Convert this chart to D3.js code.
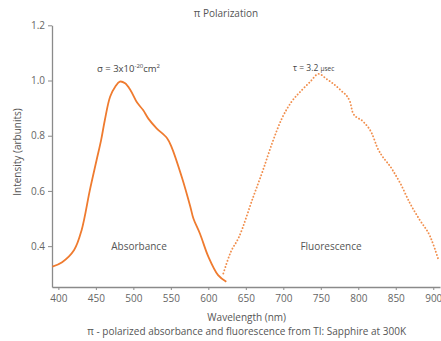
<!DOCTYPE html>
<html><head><meta charset="utf-8">
<script src="https://cdn.jsdelivr.net/npm/d3@7"></script>
<style>
html,body{margin:0;padding:0;background:#fff;}
svg{display:block;font-family:"Open Sans","Noto Sans",sans-serif;}
</style></head>
<body><svg id="c" width="441" height="341"></svg>
<script>
const absWavelength = [392,405,421,431,442,451,457,462,469,476,482,489,496,505,513,520,531,545,551,565,576,580,589,600,613,624];
const absIntensity  = [0.326,0.342,0.386,0.458,0.603,0.712,0.784,0.857,0.941,0.978,0.996,0.990,0.966,0.920,0.893,0.862,0.827,0.791,0.759,0.647,0.543,0.501,0.444,0.362,0.295,0.271];
const fluWavelength = [620,630,640,660,673,685,698,711,725,736,747,758,776,789,793,807,818,825,845,856,869,882,896,907];
const fluIntensity  = [0.301,0.379,0.428,0.579,0.676,0.772,0.862,0.923,0.966,0.996,1.024,1.005,0.966,0.923,0.881,0.850,0.809,0.760,0.679,0.628,0.555,0.495,0.434,0.350];
const xTicks = [400,450,500,550,600,650,700,750,800,850,900];
const yTicks = [0.4,0.6,0.8,1.0,1.2];

const svg = d3.select("#c");
const x = d3.scaleLinear().domain([391.5,909]).range([52,440]);
const y = d3.scaleLinear().domain([0.252,1.2]).range([287,25.3]);
const orange = "#ef7b2f";
const axisCol = "#8a8a8a";
const textCol = "#555";

// axes
const xa = svg.append("g").attr("transform","translate(0,287)")
  .call(d3.axisBottom(x).tickValues(xTicks).tickFormat(d3.format("d")).tickSize(3).tickSizeOuter(0).tickPadding(5));
const ya = svg.append("g").attr("transform","translate(52,0)")
  .call(d3.axisLeft(y).tickValues(yTicks).tickFormat(d3.format(".1f")).tickSize(4).tickSizeOuter(0).tickPadding(3));
[xa,ya].forEach(g=>{
  g.select(".domain").attr("stroke",axisCol).attr("stroke-width",1.3);
  g.selectAll(".tick line").attr("stroke",axisCol);
  g.selectAll(".tick text").attr("fill","#666").attr("font-size",10).attr("font-family","'Open Sans','Noto Sans',sans-serif");
});

const absData = absWavelength.map((w,i)=>[w,absIntensity[i]]);
const fluData = fluWavelength.map((w,i)=>[w,fluIntensity[i]]);
const absLine = d3.line().x(d=>x(d[0])).y(d=>y(d[1])).curve(d3.curveCatmullRom.alpha(0.5));
const fluLine = d3.line().x(d=>x(d[0])).y(d=>y(d[1])).curve(d3.curveMonotoneX);

svg.append("path").attr("d",absLine(absData)).attr("fill","none")
  .attr("stroke",orange).attr("stroke-width",1.8).attr("stroke-linejoin","round");
svg.append("path").attr("d",fluLine(fluData)).attr("fill","none")
  .attr("stroke",orange).attr("stroke-opacity",0.85).attr("stroke-width",1.9)
  .attr("stroke-dasharray","0.1,3.2").attr("stroke-linecap","round");

// text
function txt(xp,yp,s,size,anchor){
  return svg.append("text").attr("x",xp).attr("y",yp).attr("fill",textCol)
    .attr("font-size",size).attr("text-anchor",anchor||"middle").text(s);
}
txt(226,17,"π Polarization",10);
txt(246.7,320.5,"Wavelength (nm)",10);
txt(246.7,334.5,"π - polarized absorbance and fluorescence from TI: Sapphire at 300K",10);
svg.append("text").attr("transform","translate(21,152) rotate(-90)").attr("fill",textCol)
  .attr("font-size",10).attr("text-anchor","middle").text("Intensity (arbunits)");
txt(139,250,"Absorbance",10);
txt(331,250,"Fluorescence",10);

const sig = svg.append("text").attr("x",97).attr("y",71.5).attr("fill","#444").attr("font-size",9.5);
sig.append("tspan").text("σ = 3x10");
sig.append("tspan").attr("font-size",6).attr("dy",-4).text("-20");
sig.append("tspan").attr("dy",4).text("cm");
sig.append("tspan").attr("font-size",6).attr("dy",-4).text("2");

const tau = svg.append("text").attr("x",293).attr("y",70.5).attr("fill","#444").attr("font-size",8.5);
tau.append("tspan").text("τ = 3.2 ");
tau.append("tspan").attr("font-size",6.5).text("μsec");
</script></body></html>
